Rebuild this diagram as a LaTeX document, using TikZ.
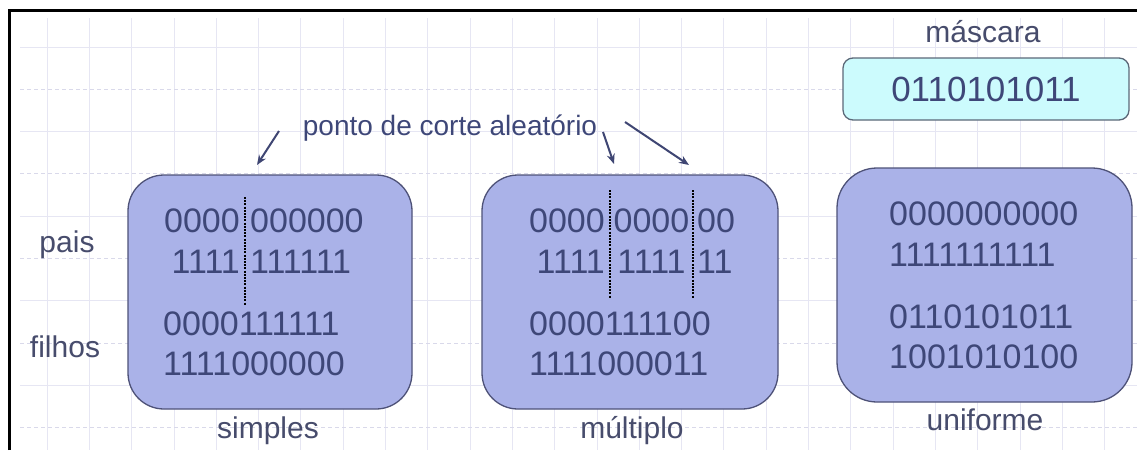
\documentclass[tikz,border=0pt]{standalone}
\usepackage{fontspec}
\setmainfont{Liberation Sans}
\usetikzlibrary{arrows.meta}
\definecolor{boxfill}{HTML}{AAB2E8}
\definecolor{boxdraw}{HTML}{4E5278}
\definecolor{digit}{HTML}{3E4778}
\definecolor{lbl}{HTML}{474C6C}
\definecolor{maskfill}{HTML}{CCFBFD}
\definecolor{maskdraw}{HTML}{5B6878}
\definecolor{gridc}{HTML}{E6E6F3}
\definecolor{gridd}{HTML}{D9D9EA}
\definecolor{arrc}{HTML}{3F4673}
\tikzset{
  x=1pt, y=-1pt,
  gridline/.style={draw=gridc, line width=0.8pt},
  griddash/.style={draw=gridd, line width=0.9pt, dash pattern=on 4pt off 3pt},
  cbox/.style={draw=boxdraw, fill=boxfill, line width=1.3pt, rounded corners=36pt},
  mbox/.style={draw=maskdraw, fill=maskfill, line width=1.3pt, rounded corners=10pt},
  bits/.style={inner sep=0pt, text=digit, font=\fontsize{34}{34}\selectfont},
  mbits/.style={inner sep=0pt, text=digit, font=\fontsize{35}{35}\selectfont},
  lab/.style={inner sep=0pt, anchor=base, text=lbl, font=\fontsize{30}{30}\selectfont},
  note/.style={inner sep=0pt, anchor=base, text=digit, font=\fontsize{28}{28}\selectfont},
  cutline/.style={draw=black, line width=1.6pt, dash pattern=on 2pt off 1.2pt},
  arr/.style={draw=arrc, line width=2pt, -{Stealth[length=10pt,width=8pt]}},
  frameline/.style={draw=black, line width=3pt}
}
\begin{document}
\begin{tikzpicture}
\useasboundingbox (0,0) rectangle (1137,450);
\fill[white] (0,0) rectangle (1137,450);
% grid
\foreach \i in {0,...,25} {
  \draw[gridline] ({47+42.3*\i},18) -- ({47+42.3*\i},450);
}
\foreach \j in {0,2,4,6,8} {
  \draw[gridline] (20,{47+42.3*\j}) -- (1137,{47+42.3*\j});
}
\foreach \j in {1,3,5,7,9} {
  \draw[griddash] (20,{47+42.3*\j}) -- (1137,{47+42.3*\j});
}
% frame
\draw[frameline] (9,450) -- (9,10) -- (1137,10);

% boxes
\draw[cbox] (128,175) rectangle (412,409);
\draw[cbox] (482,175) rectangle (778,409);
\draw[cbox, rounded corners=40pt] (837,168) rectangle (1132,402);
\draw[mbox] (843,58) rectangle (1129,120);

% simples
\node[bits, anchor=east] (s1a) at (240,221) {0000};
\node[bits, anchor=west] (s1b) at (250,221) {000000};
\node[bits, anchor=east] (s2a) at (240,262) {1111};
\node[bits, anchor=west] (s2b) at (250,262) {111111};
\node[bits, anchor=west] (s3) at (163,324) {0000111111};
\node[bits, anchor=west] (s4) at (163,364) {1111000000};
\coordinate (sc1) at (245,197);
\coordinate (sc2) at (245,305);
\draw[cutline] (sc1) -- (sc2);

% multiplo
\node[bits, anchor=east] (m1a) at (605,221) {0000};
\node[bits, anchor=center] (m1b) at (651.5,221) {0000};
\node[bits, anchor=west] (m1c) at (697,221) {00};
\node[bits, anchor=east] (m2a) at (605,262) {1111};
\node[bits, anchor=center] (m2b) at (651.5,262) {1111};
\node[bits, anchor=west] (m2c) at (697,262) {11};
\node[bits, anchor=west] (m3) at (529,324) {0000111100};
\node[bits, anchor=west] (m4) at (529,364) {1111000011};
\coordinate (mc1) at (610,190);
\coordinate (mc2) at (610,298);
\coordinate (mc3) at (693,190);
\coordinate (mc4) at (693,298);
\draw[cutline] (mc1) -- (mc2);
\draw[cutline] (mc3) -- (mc4);

% uniforme
\node[bits, anchor=west] (u1) at (889,214) {0000000000};
\node[bits, anchor=west] (u2) at (889,255) {1111111111};
\node[bits, anchor=west] (u3) at (889,317) {0110101011};
\node[bits, anchor=west] (u4) at (889,357) {1001010100};

% mask
\node[mbits] (mask) at (986,89) {0110101011};
\node[lab] (masklab) at (983,42) {máscara};

% labels
\node[lab] (pais) at (67,252) {pais};
\node[lab] (filhos) at (65,357) {filhos};
\node[lab] (simples) at (268,438) {simples};
\node[lab] (multiplo) at (632,438) {múltiplo};
\node[lab] (uniforme) at (985,430) {uniforme};

% note and arrows
\node[note] (ponto) at (450,135) {ponto de corte aleatório};
\coordinate (a1s) at (279,131);
\coordinate (a1e) at (257,165);
\coordinate (a2s) at (603,132);
\coordinate (a2e) at (614,164);
\coordinate (a3s) at (625,122);
\coordinate (a3e) at (689,165);
\draw[arr] (a1s) -- (a1e);
\draw[arr] (a2s) -- (a2e);
\draw[arr] (a3s) -- (a3e);
\end{tikzpicture}
\end{document}
